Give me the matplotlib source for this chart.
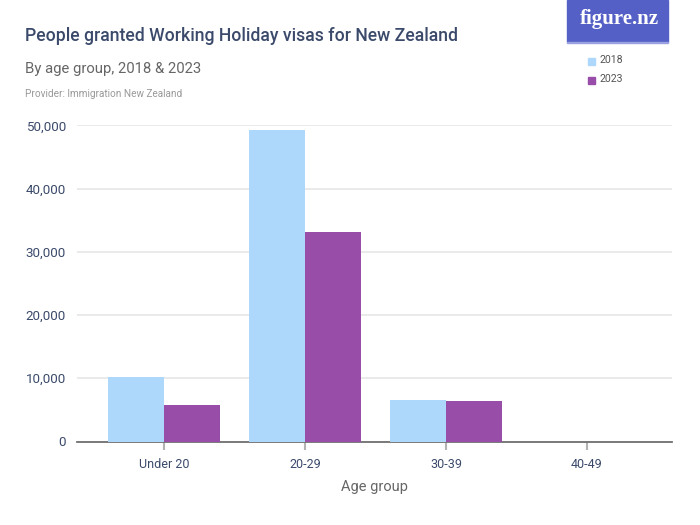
import matplotlib
matplotlib.use("Agg")
import matplotlib.pyplot as plt
from matplotlib.patches import Rectangle
import numpy as np

categories = ["Under 20", "20-29", "30-39", "40-49"]
series_names = ["2018", "2023"]
values_2018 = [10200, 49200, 6500, 0]
values_2023 = [5800, 33100, 6350, 0]
yticks = [0, 10000, 20000, 30000, 40000, 50000]
ytick_labels = ["0", "10,000", "20,000", "30,000", "40,000", "50,000"]

title = "People granted Working Holiday visas for New Zealand"
subtitle = "By age group, 2018 & 2023"
provider = "Provider: Immigration New Zealand"
xlabel = "Age group"

c18 = "#aed8fb"
c23 = "#984ea9"
navy = "#3b4a6b"

fam = ["Roboto", "DejaVu Sans"]
plt.rcParams["font.family"] = fam

fig = plt.figure(figsize=(7, 5.25), dpi=100)
ax = fig.add_axes([77/700, 1-441.5/525, (672-77)/700, (441.5-125.3)/525])

x = np.arange(len(categories))
w = 0.4
ax.bar(x - w/2, values_2018, width=w, color=c18, zorder=3, linewidth=0)
ax.bar(x + w/2, values_2023, width=w, color=c23, zorder=3, linewidth=0)

ax.set_xlim(-0.617, 3.603)
ax.set_ylim(0, 50000)
ax.set_yticks(yticks)
ax.set_yticklabels(ytick_labels, color=navy, fontsize=9.6)
ax.set_xticks(x)
ax.set_xticklabels(categories, color=navy, fontsize=9)
ax.tick_params(axis="y", length=0, pad=8)
ax.tick_params(axis="x", length=6, width=1.5, color="#b3b3b3", pad=6)
ax.grid(axis="y", color="#e6e6e6", linewidth=1.2, zorder=0)
for s in ["top", "right", "left"]:
    ax.spines[s].set_visible(False)
ax.spines["bottom"].set_color("#707070")
ax.spines["bottom"].set_linewidth(1.3)
ax.set_xlabel(xlabel, color="#666666", fontsize=10.5, labelpad=6)

fig.text(25/700, 1-36/525, title, color=navy, fontsize=12.7, fontweight="medium",
         va="center", ha="left")
fig.text(25/700, 1-69/525, subtitle, color="#666666", fontsize=10.7, va="center", ha="left")
fig.text(25/700, 1-94/525, provider, color="#999999", fontsize=7.2, va="center", ha="left")

# logo
fig.patches.append(Rectangle((567/700, 1-42/525), (668-567)/700, 42/525,
                             transform=fig.transFigure, color="#5560c6", zorder=1))
fig.patches.append(Rectangle((567/700, 1-43/525), (668-567)/700, 1.2/525,
                             transform=fig.transFigure, color="#9aa1e0", zorder=1))
fig.text(619/700, 1-19/525, "figure.nz", color="white", fontsize=15, fontweight="bold",
         family=["Liberation Serif", "DejaVu Serif"], ha="center", va="center")

# legend
for i, (name, col) in enumerate(zip(series_names, [c18, c23])):
    yy = 1 - (61 + i*19)/525
    fig.patches.append(Rectangle((588/700, yy - 3.5/525), 7/700, 7/525,
                                 transform=fig.transFigure, color=col))
    fig.text(599/700, yy + 1/525, name, color="#555555", fontsize=7.6, va="center", ha="left")

fig.savefig("out.png", dpi=100)
